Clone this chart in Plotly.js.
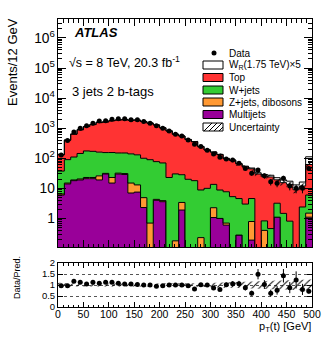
<!DOCTYPE html>
<html>
<head>
<meta charset="utf-8">
<script src="https://cdn.plot.ly/plotly-3.0.1.min.js"></script>
<style>
body{margin:0;padding:0;background:#fff;}
#plot{width:332px;height:344px;}
</style>
</head>
<body>
<div id="plot"></div>
<script>
// pT(t) bins of 12.5 GeV, the last one holds the overflow
var binWidth = 12.5;
var nBins = 40;
var edges = [];
for (var i = 0; i <= nBins; i++) edges.push(i * binWidth);
var centers = edges.slice(0, nBins).map(function(e){ return e + binWidth / 2; });

// values
var dataCounts = [128, 388, 740, 1000, 1200, 1470, 1740, 1780, 2000, 2040, 2040, 1900, 1900, 1660, 1470, 1200, 1000, 810, 630, 550,
                  407, 295, 245, 185, 139, 108, 95, 88, 68, 46, 32, 41, 26, 16.5, 14.7, 21.5, 12, 10, 10, 46];
var ratio = [0.97, 0.97, 1.17, 1.12, 1.05, 1.12, 1.08, 1.12, 1.12, 1.08, 1.05, 1.05, 1.02, 1.0, 1.0, 0.94, 0.97, 1.0, 1.0, 1.0,
             0.97, 0.82, 1.01, 1.0, 0.86, 0.8, 1.01, 1.06, 1.06, 0.88, 0.63, 1.49, 1.02, 0.63, 0.76, 1.42, 0.88, 1.23, 0.8, 0.72];
var multijet = [6, 14, 18, 19, 21, 21, 19, 30, 15, 30, 29, 7, 7.5, 2.3, 0, 4, 3.6, 0, 0, 1.9,
                0, 0, 0, 0, 1.07, 1.0, 0.6, 0, 0.28, 0, 0.19, 0, 0, 0, 1.1, 0, 0, 0, 0, 1.1];
var zjets = [0.5, 1, 1, 1.5, 2, 2, 7, 1.5, 8, 2, 2, 8, 5.5, 2.6, 0.7, 0.3, 0.3, 0, 0.18, 1.5,
             0, 0, 0.23, 0, 1.2, 0, 0.1, 0, 0, 0, 0.6, 0, 0.4, 0, 0, 0, 0, 0, 0, 0.4];
var wjets = [31, 75, 91, 124, 152, 147, 134, 123, 132, 118, 119, 125, 117, 95, 89, 73, 66, 23, 30, 25,
             20, 18, 8.6, 10, 11.3, 7.8, 7.0, 5.3, 4.3, 3.0, 3.8, 0, 0.43, 0.46, 2.1, 1.47, 0.81, 0, 2.4, 4.5];
var topBkg = [94, 310, 525, 745, 965, 1150, 1400, 1465, 1625, 1730, 1770, 1700, 1710, 1560, 1380, 1203, 960, 787, 600, 522,
              400, 337, 236, 178, 146, 124, 88, 79, 60, 49, 40, 30, 25, 23.5, 16, 14, 12.7, 9, 9.6, 56];
var wprime5 = [0.1, 0.15, 0.2, 0.3, 0.3, 0.4, 0.5, 0.5, 0.6, 0.7, 0.8, 0.8, 0.9, 1, 1, 1.1, 1.2, 1.3, 1.4, 1.5,
               1.6, 1.7, 1.8, 1.9, 2, 2.1, 2.2, 2.4, 2.5, 2.6, 2.8, 3, 3.1, 3.3, 3.4, 3.6, 3.8, 4, 4.2, 50];
var relUnc = [0.10, 0.08, 0.07, 0.07, 0.07, 0.07, 0.07, 0.07, 0.07, 0.07, 0.07, 0.07, 0.07, 0.07, 0.07, 0.07, 0.08, 0.08, 0.08, 0.08,
              0.08, 0.08, 0.08, 0.09, 0.10, 0.11, 0.12, 0.13, 0.14, 0.15, 0.16, 0.17, 0.18, 0.19, 0.20, 0.21, 0.22, 0.23, 0.24, 0.25];

var colMulti = '#990099', colZ = '#ff9933', colW = '#33cc33', colTop = '#ff3333';

// stacking
var floorVal = 1e-4;
function addArr(a, b){ return a.map(function(v, k){ return v + b[k]; }); }
var cumMulti = multijet.slice();
var cumZ = addArr(cumMulti, zjets);
var cumW = addArr(cumZ, wjets);
var cumTop = addArr(cumW, topBkg);
var cumWp = addArr(cumTop, wprime5);
// hv step: repeat last value at the right edge
function step(v){ var s = v.map(function(x){ return Math.max(x, floorVal); }); s.push(s[s.length - 1]); return s; }

function stackTrace(vals, color){
  return {x: edges, y: step(vals), type: 'scatter', mode: 'lines', line: {shape: 'hv', color: 'black', width: 1},
          fill: 'tonexty', fillcolor: color, hoverinfo: 'skip', xaxis: 'x', yaxis: 'y'};
}

var traces = [
  {x: edges, y: edges.map(function(){ return floorVal; }), type: 'scatter', mode: 'lines', line: {width: 0}, xaxis: 'x', yaxis: 'y'},
  stackTrace(cumMulti, colMulti),
  stackTrace(cumZ, colZ),
  stackTrace(cumW, colW),
  stackTrace(cumTop, colTop),
  stackTrace(cumWp, 'white'),
  {x: edges, y: step(cumTop.map(function(v, k){ return v * (1 - relUnc[k]); })), type: 'scatter', mode: 'lines',
   line: {shape: 'hv', width: 0}, xaxis: 'x', yaxis: 'y'},
  {x: edges, y: step(cumTop.map(function(v, k){ return v * (1 + relUnc[k]); })), type: 'scatter', mode: 'lines',
   line: {shape: 'hv', width: 0}, fill: 'tonexty', fillcolor: 'rgba(0,0,0,0)',
   fillpattern: {shape: '/', fgcolor: 'black', bgcolor: 'rgba(0,0,0,0)', size: 5, solidity: 0.2}, xaxis: 'x', yaxis: 'y'},
  {x: centers, y: dataCounts, type: 'scatter', mode: 'markers', marker: {color: 'black', size: 5},
   error_y: {type: 'data', array: dataCounts.map(Math.sqrt), color: 'black', thickness: 1, width: 0}, xaxis: 'x', yaxis: 'y'},
  // ratio panel
  {x: edges, y: step(relUnc.map(function(u){ return 1 - u; })), type: 'scatter', mode: 'lines',
   line: {shape: 'hv', width: 0}, xaxis: 'x2', yaxis: 'y2'},
  {x: edges, y: step(relUnc.map(function(u){ return 1 + u; })), type: 'scatter', mode: 'lines',
   line: {shape: 'hv', width: 0}, fill: 'tonexty', fillcolor: 'rgba(0,0,0,0)',
   fillpattern: {shape: '/', fgcolor: 'black', bgcolor: 'rgba(0,0,0,0)', size: 5, solidity: 0.2}, xaxis: 'x2', yaxis: 'y2'},
  {x: centers, y: ratio, type: 'scatter', mode: 'markers', marker: {color: 'black', size: 5},
   error_y: {type: 'data', array: ratio.map(function(r, k){ return r / Math.sqrt(dataCounts[k]); }), color: 'black', thickness: 1, width: 0},
   xaxis: 'x2', yaxis: 'y2'}
];

var W = 332, H = 344;
function px(x){ return x / W; }
function py(y){ return 1 - y / H; }

var frame = {showline: true, linecolor: 'black', linewidth: 1, mirror: 'allticks', ticks: 'inside', tickcolor: 'black',
             zeroline: false, showgrid: false, automargin: false};

// legend, drawn by hand so the rows sit as tight as in the original
var legRows = [
  {label: 'Data', y: 53, kind: 'dot'},
  {label: 'W<sub>R</sub>(1.75 TeV)×5', y: 65, kind: 'box', color: 'white'},
  {label: 'Top', y: 77.5, kind: 'box', color: colTop},
  {label: 'W+jets', y: 90, kind: 'box', color: colW},
  {label: 'Z+jets, dibosons', y: 102, kind: 'box', color: colZ},
  {label: 'Multijets', y: 114.5, kind: 'box', color: colMulti},
  {label: 'Uncertainty', y: 127, kind: 'hatch'}
];
var shapes = [], annotations = [];
legRows.forEach(function(r){
  annotations.push({xref: 'paper', yref: 'paper', x: px(227), y: py(r.y), xanchor: 'left', yanchor: 'middle',
                    text: r.label, showarrow: false, font: {size: 10}});
  if (r.kind === 'dot') {
    shapes.push({type: 'circle', xref: 'paper', yref: 'paper', x0: px(211.5), x1: px(216.5), y0: py(r.y + 2.5), y1: py(r.y - 2.5),
                 fillcolor: 'black', line: {width: 0}});
  } else {
    shapes.push({type: 'rect', xref: 'paper', yref: 'paper', x0: px(203), x1: px(223), y0: py(r.y + 4), y1: py(r.y - 4),
                 fillcolor: r.kind === 'hatch' ? 'white' : r.color, line: {color: 'black', width: 1}});
    if (r.kind === 'hatch') {
      for (var k = 0; k < 4; k++) {
        var xs = 204 + 5 * k, len = Math.min(8, 223 - xs);
        shapes.push({type: 'line', xref: 'paper', yref: 'paper', x0: px(xs), y0: py(r.y + 4), x1: px(xs + len),
                     y1: py(r.y + 4 - len), line: {color: 'black', width: 1}});
      }
    }
  }
});

annotations.push(
  {xref: 'paper', yref: 'paper', x: px(72), y: py(33), xanchor: 'left', yanchor: 'middle', showarrow: false,
   text: '<b><i>ATLAS</i></b>', font: {size: 13}},
  {xref: 'paper', yref: 'paper', x: px(67), y: py(62), xanchor: 'left', yanchor: 'middle', showarrow: false,
   text: '√s = 8 TeV, 20.3 fb<sup>-1</sup>', font: {size: 12.5}},
  {xref: 'paper', yref: 'paper', x: px(70), y: py(91), xanchor: 'left', yanchor: 'middle', showarrow: false,
   text: '3 jets 2 b-tags', font: {size: 13}},
  {xref: 'paper', yref: 'paper', x: px(13), y: py(62), xanchor: 'center', yanchor: 'middle', showarrow: false,
   text: 'Events/12 GeV', textangle: -90, font: {size: 13}},
  {xref: 'paper', yref: 'paper', x: px(17), y: py(278), xanchor: 'center', yanchor: 'middle', showarrow: false,
   text: 'Data/Pred.', textangle: -90, font: {size: 9}},
  {xref: 'paper', yref: 'paper', x: px(313), y: py(327), xanchor: 'right', yanchor: 'middle', showarrow: false,
   text: 'p<sub>T</sub>(t) [GeV]', font: {size: 11}}
);

var xDom = [px(58), px(312)];
var layout = {
  width: W, height: H,
  margin: {l: 0, r: 0, t: 0, b: 0},
  paper_bgcolor: 'white', plot_bgcolor: 'white',
  showlegend: false,
  font: {family: 'Liberation Sans, Arial, sans-serif', color: 'black', size: 11},
  xaxis: Object.assign({}, frame, {domain: xDom, range: [0, 500], anchor: 'y', dtick: 50, tick0: 0, ticklen: 7,
         showticklabels: false, minor: {dtick: 10, ticks: 'inside', ticklen: 3.5, tickcolor: 'black'}}),
  yaxis: Object.assign({}, frame, {domain: [py(247), py(19)], type: 'log', range: [-0.95, 6.63], anchor: 'x',
         dtick: 1, exponentformat: 'power', ticklen: 8, tickfont: {size: 11},
         minor: {dtick: 'D1', ticks: 'inside', ticklen: 4, tickcolor: 'black'}}),
  xaxis2: Object.assign({}, frame, {domain: xDom, range: [0, 500], anchor: 'y2', matches: 'x', dtick: 50, tick0: 0, ticklen: 5,
         ticklabelstandoff: -3, tickfont: {size: 10.5}, minor: {dtick: 10, ticks: 'inside', ticklen: 2.5, tickcolor: 'black'}}),
  yaxis2: Object.assign({}, frame, {domain: [py(307), py(263)], range: [0, 2], anchor: 'x2',
         tickvals: [0, 0.5, 1, 1.5, 2], ticktext: ['0', '0.5', '1', '1.5', '2'], ticklen: 5, tickfont: {size: 9.5},
         showgrid: true, gridcolor: '#555', griddash: 'dot', gridwidth: 1}),
  shapes: shapes,
  annotations: annotations
};

Plotly.newPlot('plot', traces, layout, {staticPlot: true});
</script>
</body>
</html>
